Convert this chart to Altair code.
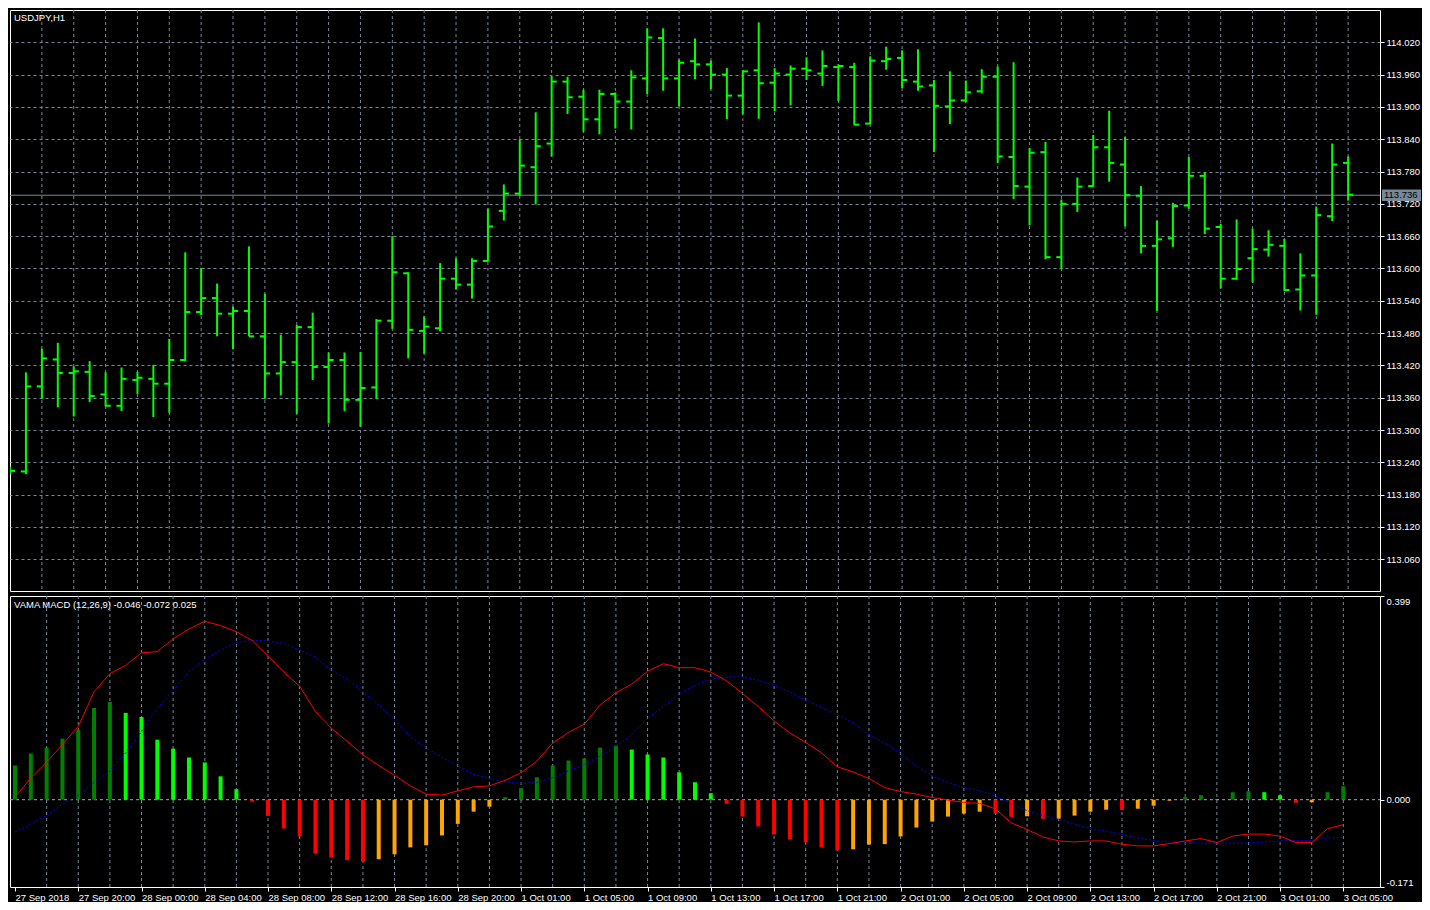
import altair as alt
import pandas as pd

# ---------------- data ----------------
opens = [113.226, 113.223, 113.381, 113.431, 113.406, 113.408, 113.366, 113.345, 113.393, 113.395,
         113.386, 113.430, 113.519, 113.545, 113.516, 113.521, 113.474, 113.405, 113.426, 113.491,
         113.417, 113.430, 113.356, 113.379, 113.503, 113.591, 113.484, 113.489, 113.581, 113.570,
         113.614, 113.707, 113.739, 113.788, 113.832, 113.947, 113.919, 113.877, 113.924, 113.910,
         113.953, 114.028, 113.953, 113.985, 113.979, 113.960, 113.921, 113.968, 113.945, 113.960,
         113.971, 113.962, 113.974, 113.974, 113.869, 113.985, 113.991, 113.947, 113.940, 113.901,
         113.912, 113.929, 113.956, 113.807, 113.752, 113.816, 113.621, 113.720, 113.753, 113.825,
         113.793, 113.735, 113.642, 113.656, 113.717, 113.772, 113.677, 113.581, 113.619, 113.635,
         113.642, 113.561, 113.587, 113.697, 113.796]
highs = [113.232, 113.407, 113.451, 113.462, 113.418, 113.428, 113.407, 113.416, 113.408, 113.421,
         113.469, 113.630, 113.601, 113.572, 113.529, 113.641, 113.553, 113.477, 113.495, 113.518,
         113.444, 113.444, 113.445, 113.506, 113.660, 113.593, 113.511, 113.610, 113.619, 113.619,
         113.711, 113.756, 113.840, 113.890, 113.957, 113.956, 113.932, 113.932, 113.927, 113.968,
         114.046, 114.046, 113.988, 114.027, 113.986, 113.972, 113.968, 114.057, 113.972, 113.977,
         113.992, 114.005, 113.979, 113.982, 113.994, 114.012, 114.005, 114.007, 113.950, 113.966,
         113.949, 113.970, 113.975, 113.983, 113.824, 113.835, 113.728, 113.769, 113.848, 113.893,
         113.844, 113.753, 113.689, 113.722, 113.807, 113.779, 113.683, 113.691, 113.674, 113.671,
         113.655, 113.628, 113.715, 113.832, 113.808]
lows = [113.218, 113.218, 113.358, 113.342, 113.325, 113.352, 113.344, 113.335, 113.367, 113.324,
        113.332, 113.428, 113.513, 113.474, 113.450, 113.474, 113.358, 113.364, 113.330, 113.393,
        113.312, 113.335, 113.306, 113.358, 113.488, 113.433, 113.442, 113.483, 113.561, 113.544,
        113.613, 113.689, 113.735, 113.719, 113.808, 113.887, 113.854, 113.849, 113.860, 113.858,
        113.924, 113.930, 113.901, 113.952, 113.933, 113.877, 113.886, 113.878, 113.892, 113.903,
        113.950, 113.939, 113.911, 113.866, 113.868, 113.969, 113.935, 113.930, 113.816, 113.868,
        113.909, 113.925, 113.796, 113.729, 113.680, 113.617, 113.599, 113.705, 113.752, 113.761,
        113.678, 113.628, 113.521, 113.640, 113.711, 113.664, 113.563, 113.579, 113.574, 113.622,
        113.558, 113.522, 113.514, 113.688, 113.726]
closes = [113.224, 113.381, 113.433, 113.406, 113.409, 113.363, 113.345, 113.395, 113.397, 113.386,
          113.430, 113.519, 113.545, 113.516, 113.521, 113.474, 113.405, 113.426, 113.491, 113.417,
          113.430, 113.356, 113.378, 113.503, 113.593, 113.486, 113.492, 113.581, 113.570, 113.614,
          113.678, 113.739, 113.791, 113.827, 113.947, 113.918, 113.877, 113.924, 113.910, 113.955,
          114.029, 113.953, 113.982, 113.979, 113.960, 113.921, 113.966, 113.944, 113.962, 113.971,
          113.968, 113.976, 113.976, 113.867, 113.986, 113.989, 113.950, 113.938, 113.902, 113.912,
          113.927, 113.956, 113.808, 113.753, 113.815, 113.621, 113.720, 113.752, 113.825, 113.796,
          113.736, 113.642, 113.654, 113.716, 113.772, 113.674, 113.581, 113.599, 113.636, 113.644,
          113.560, 113.587, 113.699, 113.793, 113.737]

macd = [0.0044, 0.043, 0.0736, 0.108, 0.1435, 0.2114, 0.247, 0.263, 0.2879, 0.290,
        0.315, 0.3345, 0.3494, 0.341, 0.329, 0.3116, 0.2811, 0.250, 0.2224, 0.1726,
        0.1402, 0.1144, 0.0879, 0.0671, 0.0477, 0.027, 0.0109, 0.0089, 0.0173, 0.0251,
        0.027, 0.038, 0.0529, 0.0756, 0.111, 0.1319, 0.148, 0.1855, 0.2094, 0.2263,
        0.2515, 0.2664, 0.2586, 0.2586, 0.250, 0.2327, 0.2081, 0.1823, 0.1544, 0.1305,
        0.1124, 0.0917, 0.0646, 0.0542, 0.0413, 0.0238, 0.016, 0.0109, 0.0044, -0.0008,
        -0.0053, -0.0073, -0.018, -0.0454, -0.0583, -0.073, -0.0808, -0.0827, -0.0808, -0.0808,
        -0.0873, -0.0905, -0.0905, -0.086, -0.0808, -0.0762, -0.084, -0.0712, -0.0674, -0.0674,
        -0.0712, -0.084, -0.084, -0.057, -0.0487]
signal = [-0.0635, -0.0474, -0.031, -0.0086, 0.009, 0.0335, 0.056, 0.0917, 0.1338, 0.179,
          0.2146, 0.250, 0.2755, 0.293, 0.308, 0.312, 0.311, 0.306, 0.293, 0.279,
          0.2535, 0.237, 0.2114, 0.1856, 0.1564, 0.124, 0.1015, 0.083, 0.0659, 0.0497,
          0.0419, 0.0348, 0.0322, 0.0335, 0.0432, 0.0562, 0.069, 0.0853, 0.1047, 0.127,
          0.1597, 0.1823, 0.208, 0.224, 0.236, 0.2405, 0.2405, 0.234, 0.224, 0.2114,
          0.195, 0.181, 0.166, 0.151, 0.127, 0.111, 0.0905, 0.066, 0.0465, 0.0335,
          0.0238, 0.0173, 0.0076, -0.0086, -0.0215, -0.0312, -0.039, -0.0474, -0.057, -0.0616,
          -0.068, -0.0752, -0.0797, -0.083, -0.0849, -0.0849, -0.0849, -0.0849, -0.0849, -0.083,
          -0.0808, -0.0797, -0.0797, -0.0752, -0.0733]
hist = [0.067, 0.0904, 0.102, 0.1195, 0.137, 0.1797, 0.1913, 0.170, 0.162, 0.1176,
        0.100, 0.0827, 0.073, 0.0458, 0.0206, -0.004, -0.0318, -0.0564, -0.0719, -0.1056,
        -0.1133, -0.1185, -0.1211, -0.1166, -0.1069, -0.0933, -0.0894, -0.070, -0.0474, -0.0235,
        -0.0137, 0.005, 0.0225, 0.0439, 0.0671, 0.0768, 0.0807, 0.102, 0.106, 0.0982,
        0.0885, 0.0827, 0.0536, 0.0342, 0.0128, -0.0079, -0.0331, -0.0525, -0.068, -0.0778,
        -0.0836, -0.0933, -0.0991, -0.0972, -0.0880, -0.0870, -0.0719, -0.0545, -0.0429, -0.0331,
        -0.0273, -0.0235, -0.0273, -0.0335, -0.0325, -0.0375, -0.037, -0.0312, -0.0235, -0.0196,
        -0.0200, -0.0177, -0.0118, -0.002, 0.005, 0.0089, 0.0012, 0.0147, 0.0167, 0.0147,
        0.0089, -0.006, -0.005, 0.0147, 0.0264]

x_labels = ["27 Sep 2018", "27 Sep 20:00", "28 Sep 00:00", "28 Sep 04:00", "28 Sep 08:00",
            "28 Sep 12:00", "28 Sep 16:00", "28 Sep 20:00", "1 Oct 01:00", "1 Oct 05:00",
            "1 Oct 09:00", "1 Oct 13:00", "1 Oct 17:00", "1 Oct 21:00", "2 Oct 01:00",
            "2 Oct 05:00", "2 Oct 09:00", "2 Oct 13:00", "2 Oct 17:00", "2 Oct 21:00",
            "3 Oct 01:00", "3 Oct 05:00"]
price_ticks = [113.060, 113.120, 113.180, 113.240, 113.300, 113.360, 113.420, 113.480, 113.540,
               113.600, 113.660, 113.720, 113.780, 113.840, 113.900, 113.960, 114.020]
macd_ticks = [0.399, 0.0, -0.171]
current_price = 113.736
symbol_title = "USDJPY,H1"
indicator_title = "VAMA MACD (12,26,9) -0.046 -0.072 0.025"

# ---------------- tables ----------------
n = len(closes)
df = pd.DataFrame({"i": list(range(n)), "o": opens, "h": highs, "l": lows, "c": closes,
                   "macd": macd, "sig": signal, "hist": hist})
states = []
for k, v in enumerate(hist):
    rising = k == 0 or v >= hist[k - 1]
    if v >= 0:
        states.append("pos_up" if rising else "pos_down")
    else:
        states.append("neg_up" if rising else "neg_down")
df["state"] = states

grid_df = pd.DataFrame({"g": list(range(2, n, 2))})
cur_df = pd.DataFrame({"p": [current_price]})
zero_df = pd.DataFrame({"z": [0.0]})

# ---------------- styling ----------------
FONT = "Liberation Sans"
FS = 9.5
GRID = "#778899"
W = 1370
H1 = 581
H2 = 291

xscale = alt.Scale(domain=[0, 86], nice=False, zero=False)
noax = None
yscale1 = alt.Scale(domain=[113.001, 114.080], nice=False, zero=False)
yscale2 = alt.Scale(domain=[-0.171, 0.399], nice=False, zero=False)

yax1 = alt.Axis(orient="right", values=price_ticks, format=".3f", grid=True, gridDash=[3, 3],
                gridColor=GRID, gridWidth=1, tickColor="white", tickSize=4, labelColor="white",
                domain=False, labelPadding=2, title=None, labelFont=FONT, labelFontSize=FS)
yax2 = alt.Axis(orient="right", values=macd_ticks,
                labelExpr="replace(format(datum.value, '.3f'), '\u2212', '-')",
                grid=False, tickColor="white", tickSize=4, labelColor="white", domain=False,
                labelPadding=2, title=None, labelFlush=True, labelFont=FONT, labelFontSize=FS)
labels_js = "[" + ",".join("'" + s + "'" for s in x_labels) + "]"
xax2 = alt.Axis(values=list(range(0, n, 4)), labelExpr=labels_js + "[round(datum.value / 4)]",
                labelAlign="left", labelColor="white", tickColor="white", tickSize=4,
                domain=False, grid=False, labelPadding=1, title=None, labelOverlap=False,
                labelFont=FONT, labelFontSize=FS, labelFlush=False)

# ---------------- main price panel ----------------
base = alt.Chart(df)

vgrid1 = alt.Chart(grid_df).mark_rule(color=GRID, strokeDash=[3, 3], strokeWidth=1).encode(
    x=alt.X("g:Q", scale=xscale, axis=noax), y=alt.value(0), y2=alt.value(H1))

cur_line = alt.Chart(cur_df).mark_rule(color=GRID, strokeWidth=1).encode(
    y=alt.Y("p:Q", scale=yscale1, axis=yax1), x=alt.value(0), x2=alt.value(W))

hl = base.mark_rule(color="#00FF00", strokeWidth=2, clip=True).encode(
    x=alt.X("i:Q", scale=xscale, axis=noax),
    y=alt.Y("l:Q", scale=yscale1, axis=yax1), y2="h:Q")

open_tick = base.transform_calculate(xo="datum.i - 0.32").mark_rule(
    color="#00FF00", strokeWidth=2, clip=True).encode(
    x=alt.X("xo:Q", scale=xscale, axis=noax), x2="i:Q",
    y=alt.Y("o:Q", scale=yscale1, axis=yax1))

close_tick = base.transform_calculate(xc="datum.i + 0.32").mark_rule(
    color="#00FF00", strokeWidth=2, clip=True).encode(
    x=alt.X("i:Q", scale=xscale, axis=noax), x2="xc:Q",
    y=alt.Y("c:Q", scale=yscale1, axis=yax1))

price_box = alt.Chart(cur_df).transform_calculate(
    top="datum.p + 0.0106", bot="datum.p - 0.0106").mark_rect(color=GRID).encode(
    x=alt.value(W + 2), x2=alt.value(W + 41),
    y=alt.Y("top:Q", scale=yscale1, axis=yax1), y2="bot:Q")

price_text = alt.Chart(cur_df).mark_text(
    align="left", baseline="middle", color="#000000", font=FONT, fontSize=FS).encode(
    x=alt.value(W + 4), y=alt.Y("p:Q", scale=yscale1, axis=yax1),
    text=alt.Text("p:Q", format=".3f"))

title1 = alt.Chart(cur_df).mark_text(
    align="left", baseline="middle", color="white", font=FONT, fontSize=FS).encode(
    x=alt.value(4), y=alt.value(8), text=alt.value(symbol_title))

main = alt.layer(vgrid1, cur_line, hl, open_tick, close_tick, price_box, price_text, title1
                 ).properties(width=W, height=H1)

# ---------------- MACD panel ----------------
vgrid2 = alt.Chart(grid_df).mark_rule(color=GRID, strokeDash=[3, 3], strokeWidth=1).encode(
    x=alt.X("g:Q", scale=xscale, axis=xax2), y=alt.value(0), y2=alt.value(H2))

zero_line = alt.Chart(zero_df).mark_rule(color="#A9A9A9", strokeDash=[3, 3], strokeWidth=1).encode(
    y=alt.Y("z:Q", scale=yscale2, axis=yax2), x=alt.value(0), x2=alt.value(W))

bars = base.mark_bar(size=4, clip=True).encode(
    x=alt.X("i:Q", scale=xscale, axis=xax2),
    y=alt.Y("hist:Q", scale=yscale2, axis=yax2),
    color=alt.Color("state:N", legend=None,
                    scale=alt.Scale(domain=["pos_up", "pos_down", "neg_down", "neg_up"],
                                    range=["#008000", "#00FF00", "#FF0000", "#FFA500"])))

macd_line = base.mark_line(color="#FF0000", strokeWidth=1, clip=True).encode(
    x=alt.X("i:Q", scale=xscale, axis=xax2),
    y=alt.Y("macd:Q", scale=yscale2, axis=yax2))

sig_line = base.mark_line(color="#0000FF", strokeWidth=1, strokeDash=[2, 2], clip=True).encode(
    x=alt.X("i:Q", scale=xscale, axis=xax2),
    y=alt.Y("sig:Q", scale=yscale2, axis=yax2))

title2 = alt.Chart(cur_df).mark_text(
    align="left", baseline="middle", color="white", font=FONT, fontSize=FS).encode(
    x=alt.value(4), y=alt.value(9), text=alt.value(indicator_title))

sub = alt.layer(vgrid2, zero_line, bars, sig_line, macd_line, title2).properties(width=W, height=H2)

chart = alt.vconcat(main, sub, spacing=3, padding={"left": 1, "top": 1, "right": 0, "bottom": 0}
                    ).configure(background="#000000"
                    ).configure_view(stroke="white", strokeWidth=1)

chart.save("out.html", embed_options={"renderer": "svg", "actions": False})
